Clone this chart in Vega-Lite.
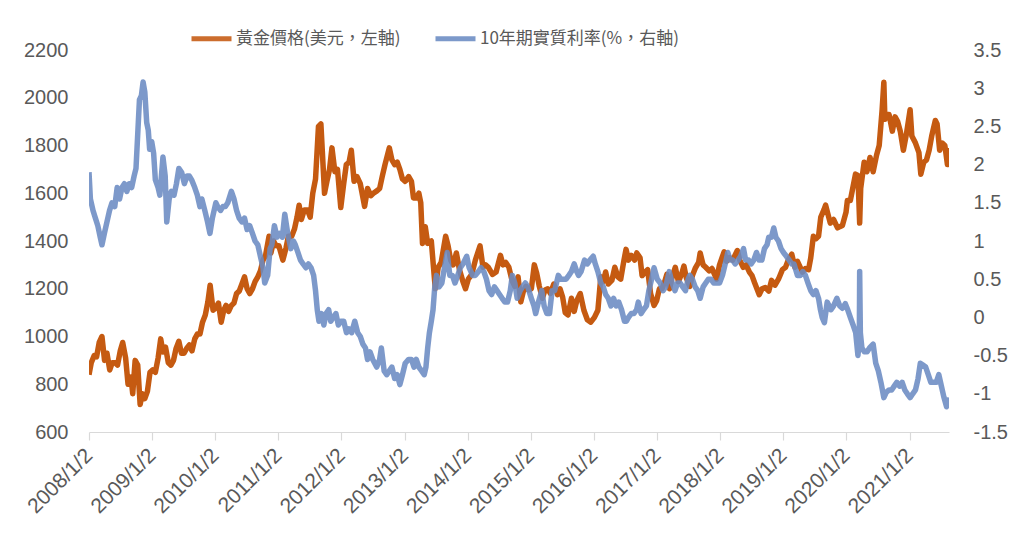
{
"$schema": "https://vega.github.io/schema/vega-lite/v6.json",
"width": 860, "height": 382,
"autosize": {"type": "none"},
"padding": {"left": 89, "top": 50, "right": 75, "bottom": 101},
"background": "white",
"config": {"view": {"stroke": null}, "font": "Liberation Sans"},
"datasets": {
"gold": [
{"date":"2008-01-02","price":840},{"date":"2008-01-15","price":890},{"date":"2008-02-01","price":920},{"date":"2008-02-15","price":915},{"date":"2008-03-01","price":975},{"date":"2008-03-17","price":1000},{"date":"2008-04-01","price":900},{"date":"2008-04-15","price":930},{"date":"2008-05-01","price":860},{"date":"2008-05-15","price":890},{"date":"2008-06-01","price":890},{"date":"2008-06-15","price":880},{"date":"2008-07-01","price":940},{"date":"2008-07-15","price":975},{"date":"2008-08-01","price":910},{"date":"2008-08-15","price":800},{"date":"2008-09-01","price":830},{"date":"2008-09-11","price":760},{"date":"2008-09-25","price":900},{"date":"2008-10-10","price":880},{"date":"2008-10-24","price":715},{"date":"2008-11-05","price":760},{"date":"2008-11-20","price":740},{"date":"2008-12-05","price":770},{"date":"2008-12-20","price":850},
{"date":"2009-01-05","price":860},{"date":"2009-01-20","price":850},{"date":"2009-02-05","price":910},{"date":"2009-02-20","price":990},{"date":"2009-03-05","price":935},{"date":"2009-03-20","price":955},{"date":"2009-04-05","price":890},{"date":"2009-04-20","price":880},{"date":"2009-05-05","price":900},{"date":"2009-05-20","price":950},{"date":"2009-06-05","price":980},{"date":"2009-06-20","price":930},{"date":"2009-07-05","price":930},{"date":"2009-07-20","price":950},{"date":"2009-08-05","price":965},{"date":"2009-08-20","price":940},{"date":"2009-09-05","price":990},{"date":"2009-09-20","price":1010},{"date":"2009-10-05","price":1010},{"date":"2009-10-20","price":1060},{"date":"2009-11-05","price":1090},{"date":"2009-11-20","price":1145},{"date":"2009-12-03","price":1215},{"date":"2009-12-20","price":1110},
{"date":"2010-01-05","price":1120},{"date":"2010-01-20","price":1140},{"date":"2010-02-05","price":1060},{"date":"2010-02-20","price":1110},{"date":"2010-03-05","price":1130},{"date":"2010-03-20","price":1105},{"date":"2010-04-05","price":1130},{"date":"2010-04-20","price":1140},{"date":"2010-05-05","price":1180},{"date":"2010-05-20","price":1190},{"date":"2010-06-05","price":1220},{"date":"2010-06-20","price":1250},{"date":"2010-07-05","price":1200},{"date":"2010-07-20","price":1180},{"date":"2010-08-05","price":1200},{"date":"2010-08-20","price":1230},{"date":"2010-09-05","price":1250},{"date":"2010-09-20","price":1275},{"date":"2010-10-05","price":1320},{"date":"2010-10-20","price":1340},{"date":"2010-11-09","price":1420},{"date":"2010-11-20","price":1350},{"date":"2010-12-05","price":1400},{"date":"2010-12-20","price":1380},
{"date":"2011-01-05","price":1380},{"date":"2011-01-28","price":1320},{"date":"2011-02-15","price":1370},{"date":"2011-03-01","price":1420},{"date":"2011-03-20","price":1420},{"date":"2011-04-05","price":1450},{"date":"2011-04-20","price":1500},{"date":"2011-05-02","price":1550},{"date":"2011-05-15","price":1490},{"date":"2011-06-01","price":1530},{"date":"2011-06-20","price":1530},{"date":"2011-07-05","price":1500},{"date":"2011-07-20","price":1600},{"date":"2011-08-05","price":1660},{"date":"2011-08-22","price":1880},{"date":"2011-09-05","price":1890},{"date":"2011-09-26","price":1600},{"date":"2011-10-10","price":1650},{"date":"2011-10-25","price":1700},{"date":"2011-11-08","price":1790},{"date":"2011-11-25","price":1690},{"date":"2011-12-10","price":1700},{"date":"2011-12-29","price":1540},
{"date":"2012-01-15","price":1640},{"date":"2012-01-30","price":1720},{"date":"2012-02-15","price":1730},{"date":"2012-02-28","price":1780},{"date":"2012-03-15","price":1650},{"date":"2012-04-01","price":1670},{"date":"2012-04-20","price":1640},{"date":"2012-05-15","price":1545},{"date":"2012-06-01","price":1620},{"date":"2012-06-20","price":1590},{"date":"2012-07-05","price":1600},{"date":"2012-07-25","price":1610},{"date":"2012-08-10","price":1620},{"date":"2012-08-25","price":1670},{"date":"2012-09-10","price":1720},{"date":"2012-10-05","price":1790},{"date":"2012-10-20","price":1740},{"date":"2012-11-05","price":1720},{"date":"2012-11-20","price":1730},{"date":"2012-12-05","price":1700},{"date":"2012-12-20","price":1660},
{"date":"2013-01-05","price":1650},{"date":"2013-01-25","price":1670},{"date":"2013-02-10","price":1650},{"date":"2013-02-22","price":1580},{"date":"2013-03-10","price":1580},{"date":"2013-03-25","price":1600},{"date":"2013-04-05","price":1560},{"date":"2013-04-15","price":1390},{"date":"2013-05-01","price":1460},{"date":"2013-05-15","price":1390},{"date":"2013-06-05","price":1400},{"date":"2013-06-28","price":1200},{"date":"2013-07-15","price":1290},{"date":"2013-08-01","price":1310},{"date":"2013-08-27","price":1420},{"date":"2013-09-10","price":1380},{"date":"2013-09-25","price":1320},{"date":"2013-10-10","price":1300},{"date":"2013-10-28","price":1350},{"date":"2013-11-15","price":1280},{"date":"2013-12-05","price":1230},{"date":"2013-12-20","price":1200},
{"date":"2014-01-05","price":1240},{"date":"2014-01-25","price":1260},{"date":"2014-02-15","price":1320},{"date":"2014-03-14","price":1380},{"date":"2014-03-31","price":1290},{"date":"2014-04-15","price":1300},{"date":"2014-05-01","price":1290},{"date":"2014-05-25","price":1260},{"date":"2014-06-15","price":1270},{"date":"2014-07-10","price":1340},{"date":"2014-07-25","price":1300},{"date":"2014-08-10","price":1310},{"date":"2014-08-28","price":1290},{"date":"2014-09-15","price":1235},{"date":"2014-10-01","price":1210},{"date":"2014-10-20","price":1250},{"date":"2014-11-05","price":1145},{"date":"2014-11-20","price":1190},{"date":"2014-12-05","price":1210},{"date":"2014-12-20","price":1195},
{"date":"2015-01-05","price":1200},{"date":"2015-01-22","price":1300},{"date":"2015-02-05","price":1265},{"date":"2015-02-20","price":1210},{"date":"2015-03-10","price":1160},{"date":"2015-03-25","price":1195},{"date":"2015-04-10","price":1200},{"date":"2015-04-25","price":1180},{"date":"2015-05-15","price":1220},{"date":"2015-06-05","price":1175},{"date":"2015-06-20","price":1200},{"date":"2015-07-05","price":1165},{"date":"2015-07-20","price":1100},{"date":"2015-08-05","price":1090},{"date":"2015-08-25","price":1160},{"date":"2015-09-10","price":1105},{"date":"2015-09-25","price":1150},{"date":"2015-10-15","price":1180},{"date":"2015-11-05","price":1110},{"date":"2015-11-25","price":1070},{"date":"2015-12-15","price":1060},
{"date":"2016-01-05","price":1080},{"date":"2016-01-25","price":1110},{"date":"2016-02-11","price":1250},{"date":"2016-02-25","price":1230},{"date":"2016-03-10","price":1270},{"date":"2016-03-25","price":1220},{"date":"2016-04-15","price":1235},{"date":"2016-05-02","price":1290},{"date":"2016-05-20","price":1250},{"date":"2016-06-05","price":1240},{"date":"2016-06-24","price":1320},{"date":"2016-07-06","price":1365},{"date":"2016-07-20","price":1320},{"date":"2016-08-05","price":1340},{"date":"2016-08-25","price":1320},{"date":"2016-09-06","price":1350},{"date":"2016-09-25","price":1330},{"date":"2016-10-07","price":1255},{"date":"2016-10-25","price":1270},{"date":"2016-11-08","price":1280},{"date":"2016-11-25","price":1180},{"date":"2016-12-15","price":1130},{"date":"2016-12-30","price":1150},
{"date":"2017-01-15","price":1200},{"date":"2017-01-30","price":1200},{"date":"2017-02-15","price":1230},{"date":"2017-02-27","price":1260},{"date":"2017-03-15","price":1200},{"date":"2017-03-30","price":1250},{"date":"2017-04-17","price":1290},{"date":"2017-05-05","price":1230},{"date":"2017-05-25","price":1265},{"date":"2017-06-06","price":1295},{"date":"2017-06-20","price":1245},{"date":"2017-07-10","price":1210},{"date":"2017-07-25","price":1255},{"date":"2017-08-10","price":1285},{"date":"2017-08-30","price":1310},{"date":"2017-09-08","price":1350},{"date":"2017-09-25","price":1300},{"date":"2017-10-10","price":1290},{"date":"2017-10-30","price":1275},{"date":"2017-11-15","price":1285},{"date":"2017-12-12","price":1240},{"date":"2017-12-29","price":1300},
{"date":"2018-01-15","price":1335},{"date":"2018-01-25","price":1355},{"date":"2018-02-08","price":1315},{"date":"2018-02-25","price":1330},{"date":"2018-03-15","price":1320},{"date":"2018-04-11","price":1360},{"date":"2018-04-25","price":1320},{"date":"2018-05-15","price":1290},{"date":"2018-06-01","price":1300},{"date":"2018-06-20","price":1270},{"date":"2018-07-05","price":1255},{"date":"2018-07-20","price":1225},{"date":"2018-08-16","price":1175},{"date":"2018-09-01","price":1200},{"date":"2018-09-20","price":1205},{"date":"2018-10-10","price":1190},{"date":"2018-10-26","price":1235},{"date":"2018-11-15","price":1215},{"date":"2018-12-05","price":1240},{"date":"2018-12-28","price":1280},
{"date":"2019-01-15","price":1290},{"date":"2019-01-31","price":1320},{"date":"2019-02-20","price":1345},{"date":"2019-03-10","price":1290},{"date":"2019-03-25","price":1315},{"date":"2019-04-23","price":1270},{"date":"2019-05-10","price":1285},{"date":"2019-05-28","price":1280},{"date":"2019-06-10","price":1330},{"date":"2019-06-25","price":1420},{"date":"2019-07-10","price":1410},{"date":"2019-07-25","price":1420},{"date":"2019-08-07","price":1500},{"date":"2019-08-25","price":1530},{"date":"2019-09-04","price":1550},{"date":"2019-09-20","price":1505},{"date":"2019-10-01","price":1475},{"date":"2019-10-20","price":1490},{"date":"2019-11-12","price":1455},{"date":"2019-11-25","price":1460},{"date":"2019-12-10","price":1465},{"date":"2019-12-31","price":1520},
{"date":"2020-01-08","price":1570},{"date":"2020-01-25","price":1570},{"date":"2020-02-24","price":1680},{"date":"2020-03-09","price":1675},{"date":"2020-03-19","price":1475},{"date":"2020-03-25","price":1620},{"date":"2020-04-14","price":1730},{"date":"2020-04-30","price":1690},{"date":"2020-05-18","price":1750},{"date":"2020-06-05","price":1690},{"date":"2020-06-25","price":1760},{"date":"2020-07-10","price":1800},{"date":"2020-07-27","price":1950},{"date":"2020-08-06","price":2065},{"date":"2020-08-12","price":1910},{"date":"2020-08-25","price":1930},{"date":"2020-09-05","price":1930},{"date":"2020-09-24","price":1860},{"date":"2020-10-10","price":1920},{"date":"2020-10-25","price":1900},{"date":"2020-11-09","price":1860},{"date":"2020-11-27","price":1780},{"date":"2020-12-15","price":1850},
{"date":"2021-01-05","price":1950},{"date":"2021-01-15","price":1840},{"date":"2021-02-05","price":1810},{"date":"2021-02-25","price":1770},{"date":"2021-03-08","price":1680},{"date":"2021-03-25","price":1730},{"date":"2021-04-10","price":1740},{"date":"2021-04-25","price":1780},{"date":"2021-05-10","price":1840},{"date":"2021-05-31","price":1905},{"date":"2021-06-10","price":1890},{"date":"2021-06-25","price":1780},{"date":"2021-07-10","price":1810},{"date":"2021-07-25","price":1800},{"date":"2021-08-09","price":1720},{"date":"2021-08-18","price":1790}
],
"rate": [
{"date":"2008-01-02","rate":1.9},{"date":"2008-01-10","rate":1.55},{"date":"2008-01-25","rate":1.4},{"date":"2008-02-08","rate":1.3},{"date":"2008-02-22","rate":1.2},{"date":"2008-03-07","rate":1.05},{"date":"2008-03-17","rate":0.95},{"date":"2008-03-31","rate":1.1},{"date":"2008-04-15","rate":1.25},{"date":"2008-04-30","rate":1.4},{"date":"2008-05-14","rate":1.5},{"date":"2008-05-30","rate":1.45},{"date":"2008-06-13","rate":1.7},{"date":"2008-06-27","rate":1.55},{"date":"2008-07-11","rate":1.7},{"date":"2008-07-25","rate":1.75},{"date":"2008-08-08","rate":1.65},{"date":"2008-08-22","rate":1.75},{"date":"2008-09-05","rate":1.7},{"date":"2008-09-19","rate":1.85},{"date":"2008-09-30","rate":1.95},{"date":"2008-10-10","rate":2.4},{"date":"2008-10-20","rate":2.85},{"date":"2008-10-31","rate":2.9},{"date":"2008-11-10","rate":3.08},{"date":"2008-11-20","rate":2.95},{"date":"2008-12-01","rate":2.55},{"date":"2008-12-10","rate":2.45},{"date":"2008-12-18","rate":2.2},{"date":"2008-12-30","rate":2.3},
{"date":"2009-01-10","rate":2.15},{"date":"2009-01-20","rate":1.8},{"date":"2009-02-05","rate":1.7},{"date":"2009-02-15","rate":1.6},{"date":"2009-03-05","rate":2.1},{"date":"2009-03-18","rate":1.85},{"date":"2009-03-27","rate":1.25},{"date":"2009-04-10","rate":1.55},{"date":"2009-04-23","rate":1.65},{"date":"2009-05-08","rate":1.6},{"date":"2009-05-22","rate":1.75},{"date":"2009-06-05","rate":1.95},{"date":"2009-06-21","rate":1.9},{"date":"2009-07-07","rate":1.75},{"date":"2009-07-22","rate":1.85},{"date":"2009-08-05","rate":1.85},{"date":"2009-08-18","rate":1.8},{"date":"2009-09-05","rate":1.7},{"date":"2009-09-20","rate":1.6},{"date":"2009-10-05","rate":1.45},{"date":"2009-10-16","rate":1.55},{"date":"2009-11-02","rate":1.4},{"date":"2009-11-18","rate":1.25},{"date":"2009-12-02","rate":1.1},{"date":"2009-12-16","rate":1.3},
{"date":"2010-01-05","rate":1.5},{"date":"2010-01-16","rate":1.45},{"date":"2010-02-01","rate":1.4},{"date":"2010-02-15","rate":1.45},{"date":"2010-03-01","rate":1.45},{"date":"2010-03-15","rate":1.5},{"date":"2010-04-05","rate":1.65},{"date":"2010-04-20","rate":1.55},{"date":"2010-05-05","rate":1.4},{"date":"2010-05-20","rate":1.3},{"date":"2010-06-05","rate":1.25},{"date":"2010-06-20","rate":1.3},{"date":"2010-07-05","rate":1.15},{"date":"2010-07-20","rate":1.2},{"date":"2010-08-05","rate":1.1},{"date":"2010-08-20","rate":1.0},{"date":"2010-09-05","rate":0.95},{"date":"2010-09-20","rate":0.8},{"date":"2010-10-05","rate":0.65},{"date":"2010-10-15","rate":0.45},{"date":"2010-11-01","rate":0.55},{"date":"2010-11-15","rate":0.9},{"date":"2010-11-25","rate":0.95},{"date":"2010-12-10","rate":1.2},{"date":"2010-12-25","rate":1.05},
{"date":"2011-01-10","rate":1.1},{"date":"2011-01-25","rate":1.05},{"date":"2011-02-08","rate":1.35},{"date":"2011-02-25","rate":1.1},{"date":"2011-03-15","rate":0.9},{"date":"2011-03-30","rate":1.0},{"date":"2011-04-10","rate":0.95},{"date":"2011-04-25","rate":0.85},{"date":"2011-05-10","rate":0.75},{"date":"2011-05-25","rate":0.7},{"date":"2011-06-10","rate":0.65},{"date":"2011-06-25","rate":0.7},{"date":"2011-07-10","rate":0.65},{"date":"2011-07-25","rate":0.55},{"date":"2011-08-05","rate":0.35},{"date":"2011-08-15","rate":0.1},{"date":"2011-08-25","rate":-0.05},{"date":"2011-09-08","rate":0.05},{"date":"2011-09-22","rate":-0.1},{"date":"2011-10-05","rate":0.05},{"date":"2011-10-20","rate":0.1},{"date":"2011-11-01","rate":-0.05},{"date":"2011-11-15","rate":0.0},{"date":"2011-12-01","rate":0.05},{"date":"2011-12-15","rate":-0.1},{"date":"2011-12-30","rate":-0.05},
{"date":"2012-01-15","rate":-0.05},{"date":"2012-01-31","rate":-0.2},{"date":"2012-02-15","rate":-0.15},{"date":"2012-03-01","rate":-0.2},{"date":"2012-03-19","rate":-0.05},{"date":"2012-04-05","rate":-0.2},{"date":"2012-04-20","rate":-0.25},{"date":"2012-05-05","rate":-0.35},{"date":"2012-05-20","rate":-0.4},{"date":"2012-06-01","rate":-0.55},{"date":"2012-06-15","rate":-0.45},{"date":"2012-07-01","rate":-0.55},{"date":"2012-07-24","rate":-0.65},{"date":"2012-08-10","rate":-0.55},{"date":"2012-08-20","rate":-0.4},{"date":"2012-09-05","rate":-0.7},{"date":"2012-09-20","rate":-0.75},{"date":"2012-10-05","rate":-0.7},{"date":"2012-10-20","rate":-0.65},{"date":"2012-11-05","rate":-0.8},{"date":"2012-11-20","rate":-0.75},{"date":"2012-12-05","rate":-0.88},{"date":"2012-12-20","rate":-0.75},
{"date":"2013-01-05","rate":-0.6},{"date":"2013-01-25","rate":-0.55},{"date":"2013-02-10","rate":-0.55},{"date":"2013-02-25","rate":-0.65},{"date":"2013-03-10","rate":-0.55},{"date":"2013-03-25","rate":-0.65},{"date":"2013-04-10","rate":-0.7},{"date":"2013-04-25","rate":-0.75},{"date":"2013-05-05","rate":-0.65},{"date":"2013-05-15","rate":-0.4},{"date":"2013-05-25","rate":-0.2},{"date":"2013-06-05","rate":-0.05},{"date":"2013-06-15","rate":0.1},{"date":"2013-06-25","rate":0.4},{"date":"2013-07-05","rate":0.55},{"date":"2013-07-20","rate":0.4},{"date":"2013-08-05","rate":0.45},{"date":"2013-08-20","rate":0.65},{"date":"2013-09-05","rate":0.85},{"date":"2013-09-20","rate":0.55},{"date":"2013-10-05","rate":0.55},{"date":"2013-10-20","rate":0.45},{"date":"2013-11-05","rate":0.55},{"date":"2013-11-20","rate":0.65},{"date":"2013-12-05","rate":0.7},{"date":"2013-12-27","rate":0.8},
{"date":"2014-01-10","rate":0.65},{"date":"2014-01-30","rate":0.55},{"date":"2014-02-15","rate":0.55},{"date":"2014-03-05","rate":0.6},{"date":"2014-03-20","rate":0.65},{"date":"2014-04-05","rate":0.6},{"date":"2014-04-20","rate":0.5},{"date":"2014-05-05","rate":0.35},{"date":"2014-05-20","rate":0.3},{"date":"2014-06-05","rate":0.4},{"date":"2014-06-20","rate":0.35},{"date":"2014-07-05","rate":0.3},{"date":"2014-07-20","rate":0.25},{"date":"2014-08-05","rate":0.2},{"date":"2014-08-20","rate":0.2},{"date":"2014-09-05","rate":0.35},{"date":"2014-09-17","rate":0.55},{"date":"2014-10-01","rate":0.45},{"date":"2014-10-15","rate":0.25},{"date":"2014-11-01","rate":0.35},{"date":"2014-11-15","rate":0.4},{"date":"2014-12-01","rate":0.45},{"date":"2014-12-15","rate":0.4},
{"date":"2015-01-05","rate":0.25},{"date":"2015-01-20","rate":0.15},{"date":"2015-01-30","rate":0.05},{"date":"2015-02-15","rate":0.2},{"date":"2015-03-06","rate":0.35},{"date":"2015-03-20","rate":0.15},{"date":"2015-04-05","rate":0.05},{"date":"2015-04-20","rate":0.05},{"date":"2015-05-05","rate":0.35},{"date":"2015-05-20","rate":0.35},{"date":"2015-06-10","rate":0.55},{"date":"2015-06-25","rate":0.5},{"date":"2015-07-10","rate":0.5},{"date":"2015-07-25","rate":0.5},{"date":"2015-08-10","rate":0.55},{"date":"2015-08-25","rate":0.6},{"date":"2015-09-10","rate":0.7},{"date":"2015-09-25","rate":0.6},{"date":"2015-10-05","rate":0.55},{"date":"2015-10-20","rate":0.6},{"date":"2015-11-09","rate":0.75},{"date":"2015-11-25","rate":0.7},{"date":"2015-12-10","rate":0.75},{"date":"2015-12-29","rate":0.8},
{"date":"2016-01-10","rate":0.7},{"date":"2016-01-25","rate":0.6},{"date":"2016-02-11","rate":0.45},{"date":"2016-02-25","rate":0.4},{"date":"2016-03-10","rate":0.3},{"date":"2016-03-25","rate":0.25},{"date":"2016-04-10","rate":0.15},{"date":"2016-04-25","rate":0.25},{"date":"2016-05-10","rate":0.15},{"date":"2016-05-25","rate":0.2},{"date":"2016-06-10","rate":0.1},{"date":"2016-06-27","rate":-0.05},{"date":"2016-07-08","rate":-0.05},{"date":"2016-07-20","rate":0.0},{"date":"2016-08-05","rate":0.05},{"date":"2016-08-20","rate":0.05},{"date":"2016-09-05","rate":0.1},{"date":"2016-09-15","rate":0.2},{"date":"2016-10-01","rate":0.05},{"date":"2016-10-15","rate":0.1},{"date":"2016-11-01","rate":0.15},{"date":"2016-11-15","rate":0.35},{"date":"2016-12-01","rate":0.5},{"date":"2016-12-15","rate":0.65},
{"date":"2017-01-03","rate":0.5},{"date":"2017-01-20","rate":0.45},{"date":"2017-02-05","rate":0.35},{"date":"2017-02-20","rate":0.4},{"date":"2017-03-13","rate":0.6},{"date":"2017-03-30","rate":0.45},{"date":"2017-04-15","rate":0.35},{"date":"2017-04-30","rate":0.45},{"date":"2017-05-15","rate":0.45},{"date":"2017-05-30","rate":0.4},{"date":"2017-06-15","rate":0.35},{"date":"2017-06-30","rate":0.5},{"date":"2017-07-10","rate":0.55},{"date":"2017-07-25","rate":0.5},{"date":"2017-08-10","rate":0.4},{"date":"2017-08-25","rate":0.35},{"date":"2017-09-08","rate":0.25},{"date":"2017-09-25","rate":0.4},{"date":"2017-10-10","rate":0.45},{"date":"2017-10-25","rate":0.5},{"date":"2017-11-10","rate":0.5},{"date":"2017-11-25","rate":0.45},{"date":"2017-12-10","rate":0.45},{"date":"2017-12-29","rate":0.45},
{"date":"2018-01-15","rate":0.55},{"date":"2018-01-31","rate":0.7},{"date":"2018-02-15","rate":0.85},{"date":"2018-02-28","rate":0.75},{"date":"2018-03-15","rate":0.75},{"date":"2018-03-30","rate":0.7},{"date":"2018-04-15","rate":0.75},{"date":"2018-04-30","rate":0.8},{"date":"2018-05-17","rate":0.9},{"date":"2018-05-29","rate":0.75},{"date":"2018-06-15","rate":0.75},{"date":"2018-06-30","rate":0.7},{"date":"2018-07-15","rate":0.75},{"date":"2018-07-31","rate":0.85},{"date":"2018-08-15","rate":0.75},{"date":"2018-08-31","rate":0.75},{"date":"2018-09-15","rate":0.9},{"date":"2018-09-30","rate":0.95},{"date":"2018-10-10","rate":1.05},{"date":"2018-10-25","rate":1.05},{"date":"2018-11-08","rate":1.17},{"date":"2018-11-20","rate":1.05},{"date":"2018-12-05","rate":1.0},{"date":"2018-12-20","rate":0.9},
{"date":"2019-01-03","rate":0.85},{"date":"2019-01-20","rate":0.8},{"date":"2019-02-05","rate":0.75},{"date":"2019-02-20","rate":0.7},{"date":"2019-03-05","rate":0.7},{"date":"2019-03-25","rate":0.55},{"date":"2019-04-10","rate":0.55},{"date":"2019-04-25","rate":0.6},{"date":"2019-05-10","rate":0.55},{"date":"2019-05-25","rate":0.45},{"date":"2019-06-10","rate":0.35},{"date":"2019-06-25","rate":0.3},{"date":"2019-07-10","rate":0.35},{"date":"2019-07-25","rate":0.25},{"date":"2019-08-05","rate":0.1},{"date":"2019-08-15","rate":0.0},{"date":"2019-08-28","rate":-0.07},{"date":"2019-09-13","rate":0.2},{"date":"2019-09-25","rate":0.15},{"date":"2019-10-05","rate":0.1},{"date":"2019-10-20","rate":0.15},{"date":"2019-11-08","rate":0.25},{"date":"2019-11-25","rate":0.15},{"date":"2019-12-10","rate":0.12},{"date":"2019-12-27","rate":0.18},
{"date":"2020-01-10","rate":0.1},{"date":"2020-01-25","rate":0.0},{"date":"2020-02-10","rate":-0.1},{"date":"2020-02-25","rate":-0.2},{"date":"2020-03-09","rate":-0.5},{"date":"2020-03-17","rate":-0.3},{"date":"2020-03-19","rate":0.6},{"date":"2020-03-23","rate":-0.2},{"date":"2020-04-01","rate":-0.4},{"date":"2020-04-15","rate":-0.45},{"date":"2020-05-01","rate":-0.45},{"date":"2020-05-15","rate":-0.4},{"date":"2020-06-05","rate":-0.35},{"date":"2020-06-20","rate":-0.6},{"date":"2020-07-05","rate":-0.7},{"date":"2020-07-20","rate":-0.85},{"date":"2020-08-06","rate":-1.05},{"date":"2020-08-20","rate":-0.98},{"date":"2020-09-05","rate":-0.95},{"date":"2020-09-20","rate":-0.95},{"date":"2020-10-05","rate":-0.9},{"date":"2020-10-20","rate":-0.85},{"date":"2020-11-05","rate":-0.9},{"date":"2020-11-20","rate":-0.85},{"date":"2020-12-05","rate":-0.95},{"date":"2020-12-20","rate":-1.0},
{"date":"2021-01-05","rate":-1.05},{"date":"2021-01-20","rate":-1.0},{"date":"2021-02-05","rate":-0.95},{"date":"2021-02-20","rate":-0.8},{"date":"2021-03-05","rate":-0.6},{"date":"2021-03-18","rate":-0.62},{"date":"2021-04-05","rate":-0.65},{"date":"2021-04-20","rate":-0.75},{"date":"2021-05-05","rate":-0.85},{"date":"2021-05-20","rate":-0.85},{"date":"2021-06-05","rate":-0.85},{"date":"2021-06-20","rate":-0.75},{"date":"2021-07-05","rate":-0.9},{"date":"2021-07-20","rate":-1.05},{"date":"2021-08-04","rate":-1.17},{"date":"2021-08-18","rate":-1.05}
]
},
"layer": [
{
"data": {"name": "gold"},
"mark": {"type": "line", "strokeWidth": 5.5, "strokeJoin": "round", "clip": true},
"encoding": {
"x": {"field": "date", "type": "temporal",
"scale": {"type": "utc", "domain": [{"year": 2008, "month": 1, "date": 2, "utc": true}, {"year": 2021, "month": 8, "date": 18, "utc": true}]},
"axis": {"title": null, "grid": false,
"values": [{"year":2008,"month":1,"date":2,"utc":true},{"year":2009,"month":1,"date":2,"utc":true},{"year":2010,"month":1,"date":2,"utc":true},{"year":2011,"month":1,"date":2,"utc":true},{"year":2012,"month":1,"date":2,"utc":true},{"year":2013,"month":1,"date":2,"utc":true},{"year":2014,"month":1,"date":2,"utc":true},{"year":2015,"month":1,"date":2,"utc":true},{"year":2016,"month":1,"date":2,"utc":true},{"year":2017,"month":1,"date":2,"utc":true},{"year":2018,"month":1,"date":2,"utc":true},{"year":2019,"month":1,"date":2,"utc":true},{"year":2020,"month":1,"date":2,"utc":true},{"year":2021,"month":1,"date":2,"utc":true}],
"labelExpr": "utcFormat(datum.value, '%Y/%-m/%-d')",
"labelAngle": -45, "labelAlign": "right", "labelBaseline": "middle",
"labelFontSize": 21, "labelColor": "#595959", "labelPadding": 12,
"labelOverlap": false, "labelFlush": false, "labelBound": false,
"domainColor": "#D9D9D9", "domainWidth": 1.2, "tickColor": "#D9D9D9", "tickSize": 8, "tickWidth": 1.2}},
"y": {"field": "price", "type": "quantitative",
"scale": {"domain": [600, 2200], "nice": false, "zero": false},
"axis": {"title": null, "grid": false, "domain": false, "ticks": false,
"values": [600, 800, 1000, 1200, 1400, 1600, 1800, 2000, 2200],
"labelFontSize": 20, "labelColor": "#595959", "labelPadding": 21, "format": "d"}},
"color": {"datum": "黃金價格(美元，左軸)", "type": "nominal",
"scale": {"domain": ["黃金價格(美元，左軸)", "10年期實質利率(%，右軸)"], "range": ["#C55A11", "#6B8BC3"]},
"legend": {"title": null, "orient": "none", "legendX": 100, "legendY": -34, "direction": "horizontal",
"symbolType": "stroke", "symbolSize": 1600, "symbolStrokeWidth": 5,
"labelFont": "Noto Sans CJK TC", "labelFontSize": 17, "labelColor": "#595959", "labelOffset": 2, "labelLimit": 0, "columnPadding": 24}}
}
},
{
"data": {"name": "rate"},
"mark": {"type": "line", "strokeWidth": 5.5, "strokeJoin": "round", "clip": true, "opacity": 0.88},
"encoding": {
"x": {"field": "date", "type": "temporal"},
"y": {"field": "rate", "type": "quantitative",
"scale": {"domain": [-1.5, 3.5], "nice": false, "zero": false},
"axis": {"orient": "right", "title": null, "grid": false, "domain": false, "ticks": false,
"values": [-1.5, -1, -0.5, 0, 0.5, 1, 1.5, 2, 2.5, 3, 3.5],
"labelExpr": "datum.value + ''",
"labelFontSize": 20, "labelColor": "#595959", "labelPadding": 24}},
"color": {"datum": "10年期實質利率(%，右軸)", "type": "nominal"}
}
}
],
"resolve": {"scale": {"y": "independent"}}
}
